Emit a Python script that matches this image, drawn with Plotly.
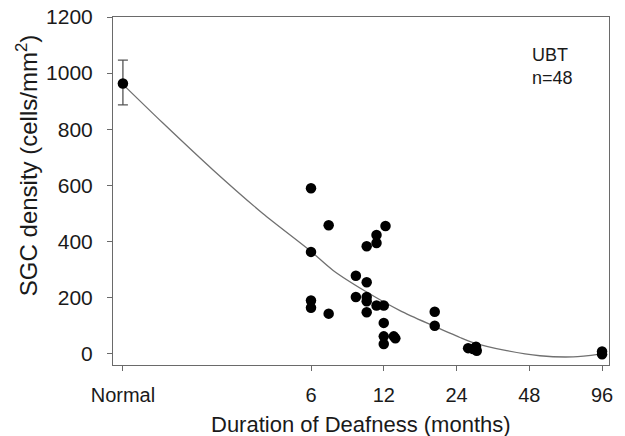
import plotly.graph_objects as go

# Data
normal_x = [1]
normal_y = [963]
normal_err_plus = [83]
normal_err_minus = [76]

pts_x = [6, 6, 6, 6, 7.1, 7.1, 9.2, 9.2, 10.2, 10.2, 10.2, 10.2, 10.2,
         11.2, 11.2, 11.2, 12.2, 12, 12, 12, 12, 13.2, 13.4,
         19.5, 19.5, 26.8, 28.1, 28.9, 29.1, 96, 96]
pts_y = [590, 363, 190, 164, 458, 143, 278, 202, 383, 255, 202, 187, 148,
         423, 395, 172, 455, 172, 110, 62, 35, 62, 55,
         150, 100, 20, 17, 25, 11, 8, -2]

curve_x = [1, 1.46, 2.36, 3.79, 5.92, 7.41, 10.2, 14.0, 19.2, 24.8, 28.1, 38.7, 53.1, 72.9, 94]
curve_y = [960, 823, 655, 500, 369, 297, 220, 154, 100, 58, 40, 11, -7, -11, -1]

tick_vals = [1, 6, 12, 24, 48, 96]
tick_text = ["Normal", "6", "12", "24", "48", "96"]
y_ticks = [0, 200, 400, 600, 800, 1000, 1200]

FONT = "Liberation Sans, Arial, sans-serif"
TXT = "#1a1a1a"
AX = "#6a6a6a"

fig = go.Figure()
fig.add_trace(go.Scatter(x=curve_x, y=curve_y, mode="lines",
                         line=dict(color="#707070", width=1.3, shape="spline", smoothing=0.8),
                         hoverinfo="skip", showlegend=False))
fig.add_trace(go.Scatter(x=normal_x, y=normal_y, mode="markers",
                         marker=dict(color="black", size=10.5),
                         error_y=dict(type="data", array=normal_err_plus,
                                      arrayminus=normal_err_minus, symmetric=False,
                                      color="#555555", thickness=1.3, width=5),
                         showlegend=False))
fig.add_trace(go.Scatter(x=pts_x, y=pts_y, mode="markers",
                         marker=dict(color="black", size=10.5),
                         showlegend=False))

fig.update_layout(
    width=625, height=436,
    margin=dict(l=113, r=16, t=17, b=71),
    paper_bgcolor="white", plot_bgcolor="white",
    font=dict(family=FONT, color=TXT, size=21),
    xaxis=dict(type="log", range=[-0.041, 2.011], automargin=False,
               tickvals=tick_vals, ticktext=tick_text,
               ticks="outside", ticklen=5, tickcolor=AX, tickwidth=1,
               showline=True, linecolor=AX, linewidth=1, mirror=True,
               showgrid=False, zeroline=False,
               tickfont=dict(size=20, family=FONT, color=TXT),
               ticklabelstandoff=7),
    yaxis=dict(range=[-40, 1200], tickvals=y_ticks, automargin=False,
               ticks="outside", ticklen=5, tickcolor=AX, tickwidth=1,
               showline=True, linecolor=AX, linewidth=1, mirror=True,
               showgrid=False, zeroline=False,
               tickfont=dict(size=21, family=FONT, color=TXT),
               ticklabelstandoff=10),
    annotations=[
        dict(text="SGC density (cells/mm<sup>2</sup>)", textangle=-90,
             xref="paper", yref="paper", x=-0.173, y=0.572,
             xanchor="center", yanchor="middle", showarrow=False,
             font=dict(size=24, family=FONT, color=TXT)),
        dict(text="Duration of Deafness (months)",
             xref="paper", yref="paper", x=0.5, y=-0.172,
             xanchor="center", yanchor="middle", showarrow=False,
             font=dict(size=22, family=FONT, color=TXT)),
        dict(text="UBT<br>n=48", align="left",
             xref="paper", yref="paper", x=0.841, y=0.925,
             xanchor="left", yanchor="top", showarrow=False,
             font=dict(size=18, family=FONT, color=TXT)),
    ],
)

fig.write_html("out.html", config={"displayModeBar": False},
               post_script="document.body.style.margin='0';")
